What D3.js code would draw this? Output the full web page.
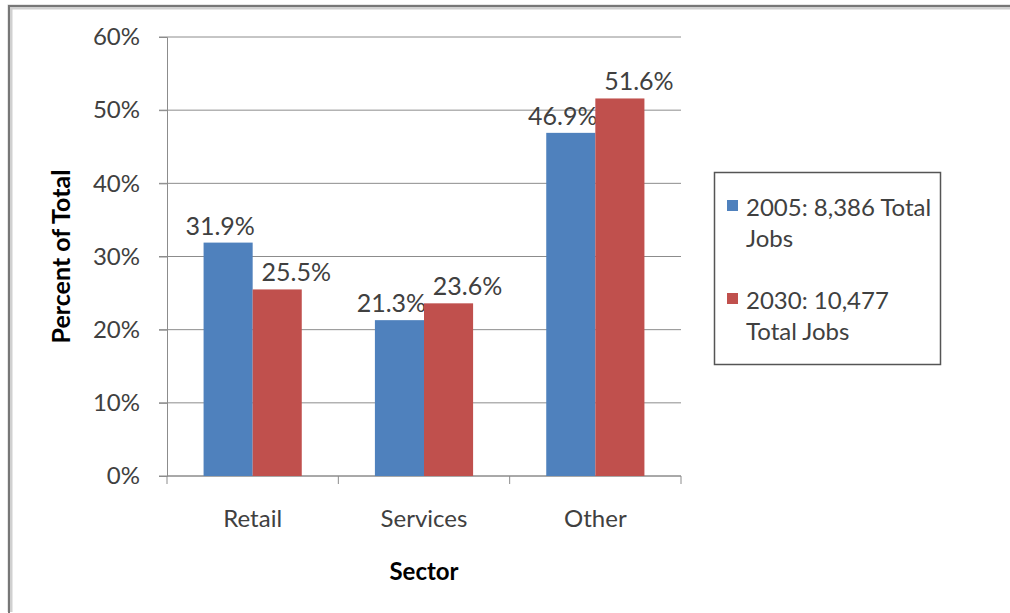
<!DOCTYPE html>
<html>
<head>
<meta charset="utf-8">
<script src="https://cdn.jsdelivr.net/npm/d3@7"></script>
<style>
body { margin: 0; background: #fff; }
text { font-family: Lato, "Open Sans", sans-serif; fill: #404040; }
</style>
</head>
<body>
<svg id="chart" width="1010" height="613"></svg>
<script>

var sectors = ["Retail", "Services", "Other"];
var seriesNames = ["2005: 8,386 Total Jobs", "2030: 10,477 Total Jobs"];
var legendLines = [["2005: 8,386 Total", "Jobs"], ["2030: 10,477", "Total Jobs"]];
var values2005 = [31.9, 21.3, 46.9];
var values2030 = [25.5, 23.6, 51.6];
var yTicks = [0, 10, 20, 30, 40, 50, 60];
var colors = ["#4F81BD", "#C0504D"];

var svg = d3.select("#chart");

// outer frame with a soft shadow
svg.append("path")
    .attr("d", "M10,612 L10,7 L1010,7")
    .attr("fill", "none")
    .attr("stroke", "#d0d0d0")
    .attr("stroke-width", 5);
svg.append("path")
    .attr("d", "M9,613 L9,6 L1010,6")
    .attr("fill", "none")
    .attr("stroke", "#777")
    .attr("stroke-width", 2);

var pLeft = 167, pRight = 681, pTop = 37, pBottom = 476;

var x = d3.scaleBand().domain(sectors).range([pLeft, pRight]);
var x1 = d3.scaleBand().domain([0, 1]).range([0, x.bandwidth()]).paddingOuter(0.745).paddingInner(0);
var y = d3.scaleLinear().domain([0, 60]).range([pBottom, pTop]);

// grid lines
svg.append("g").selectAll("line")
    .data(yTicks)
  .enter().append("line")
    .attr("x1", pLeft - 8)
    .attr("x2", pRight)
    .attr("y1", function(d) { return y(d); })
    .attr("y2", function(d) { return y(d); })
    .attr("stroke", "#8c8c8c")
    .attr("stroke-width", 1);

// y axis
var yAxis = svg.append("g")
    .attr("transform", "translate(" + pLeft + ",0)")
    .call(d3.axisLeft(y).tickValues(yTicks).tickFormat(function(d) { return d + "%"; }).tickSize(8).tickPadding(19));
yAxis.select(".domain").attr("stroke", "#8c8c8c");
yAxis.selectAll(".tick line").attr("stroke", "#8c8c8c");
yAxis.selectAll("text").style("font-size", "24px").attr("fill", "#404040");

// x axis
var xAxis = svg.append("g")
    .attr("transform", "translate(0," + pBottom + ")")
    .call(d3.axisBottom(x).tickSize(0).tickPadding(34));
xAxis.select(".domain").attr("stroke", "#8c8c8c").attr("d", "M" + pLeft + ",0H" + pRight);
xAxis.selectAll("text").style("font-size", "24px").attr("fill", "#404040");
svg.selectAll(".tick text").attr("font-family", null);

svg.append("g").selectAll("line")
    .data(sectors.concat(["end"]))
  .enter().append("line")
    .attr("x1", function(d, i) { return pLeft + i * x.bandwidth(); })
    .attr("x2", function(d, i) { return pLeft + i * x.bandwidth(); })
    .attr("y1", pBottom)
    .attr("y2", pBottom + 8)
    .attr("stroke", "#8c8c8c");

// bars + value labels (labels nudged apart like the original)
var series = [values2005, values2030];
var labelShift = [-8, 19];
series.forEach(function(vals, s) {
  var g = svg.append("g");
  g.selectAll("rect")
      .data(vals)
    .enter().append("rect")
      .attr("x", function(d, i) { return x(sectors[i]) + x1(s); })
      .attr("y", function(d) { return y(d); })
      .attr("width", x1.bandwidth())
      .attr("height", function(d) { return pBottom - y(d); })
      .attr("fill", colors[s]);
  g.selectAll("text")
      .data(vals)
    .enter().append("text")
      .attr("x", function(d, i) { return x(sectors[i]) + x1(s) + x1.bandwidth() / 2 + labelShift[s]; })
      .attr("y", function(d) { return y(d) - 8; })
      .attr("text-anchor", "middle")
      .style("font-size", "25px")
      .text(function(d) { return d.toFixed(1) + "%"; });
});

// axis titles
svg.append("text")
    .attr("transform", "translate(70," + ((pTop + pBottom) / 2) + ") rotate(-90)")
    .attr("text-anchor", "middle")
    .style("font-size", "25px")
    .style("font-weight", "bold")
    .style("fill", "#000")
    .text("Percent of Total");

svg.append("text")
    .attr("x", (pLeft + pRight) / 2)
    .attr("y", 580)
    .attr("text-anchor", "middle")
    .style("font-size", "24px")
    .style("font-weight", "bold")
    .style("fill", "#000")
    .text("Sector");

// legend
var legend = svg.append("g");
legend.append("rect")
    .attr("x", 714.5)
    .attr("y", 172.5)
    .attr("width", 226)
    .attr("height", 192)
    .attr("fill", "#fff")
    .attr("stroke", "#555")
    .attr("stroke-width", 1.5);

var item = legend.selectAll(".item")
    .data(seriesNames)
  .enter().append("g")
    .attr("class", "item")
    .attr("transform", function(d, i) { return "translate(727," + (200 + i * 93) + ")"; });
item.append("rect")
    .attr("width", 11)
    .attr("height", 11)
    .attr("fill", function(d, i) { return colors[i]; });
item.each(function(d, i) {
  d3.select(this).selectAll("text")
      .data(legendLines[i])
    .enter().append("text")
      .attr("x", 19)
      .attr("y", function(t, j) { return 16 + j * 31; })
      .style("font-size", "24px")
      .text(function(t) { return t; });
});

</script>
</body>
</html>
